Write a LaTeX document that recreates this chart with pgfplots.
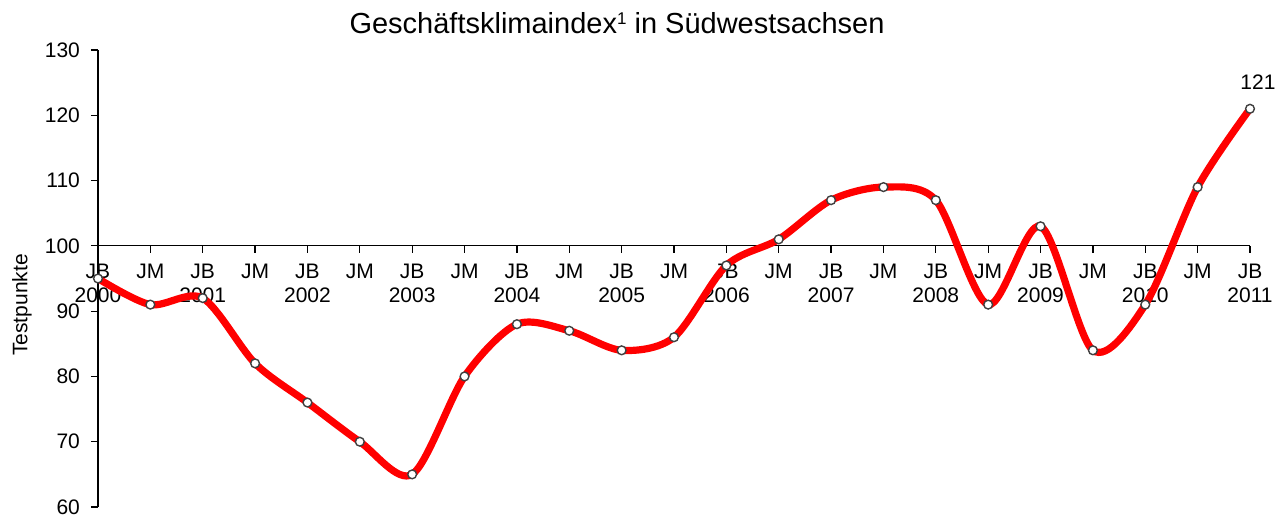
\documentclass[border=0pt]{standalone}
\usepackage{pgfplots}
\pgfplotsset{compat=1.18}
\usepackage{fontspec}
\setmainfont{Liberation Sans}
\begin{document}
\begin{tikzpicture}
\useasboundingbox (-49pt,-4.5pt) rectangle (594.5pt,253.5pt);
\begin{axis}[
    at={(0,0)}, anchor=south west,
    scale only axis, width=576pt, height=228.5pt,
    xmin=0, xmax=22, ymin=60, ymax=130,
    % shift so that the x axis line sits at 100
    y coord trafo/.code={\pgfmathparse{#1-100}},
    y coord inv trafo/.code={\pgfmathparse{#1+100}},
    axis y line=left, axis x line=middle,
    hide obscured x ticks=false, hide obscured y ticks=false,
    x axis line style={-}, y axis line style={-},
    axis line style={black, line width=0.6pt},
    tick style={black, line width=0.6pt},
    tick align=outside, major tick length=3.5pt,
    xtick={0,...,22},
    xticklabels={{JB\\2000},JM,{JB\\2001},JM,{JB\\2002},JM,{JB\\2003},JM,{JB\\2004},JM,{JB\\2005},JM,
                 {JB\\2006},JM,{JB\\2007},JM,{JB\\2008},JM,{JB\\2009},JM,{JB\\2010},JM,{JB\\2011}},
    ytick={60,70,80,90,100,110,120,130},
    yticklabels={60,70,80,90,100,110,120,130},
    xticklabel style={font=\fontsize{10.5}{12}\selectfont, align=center, yshift=-2pt},
    yticklabel style={font=\fontsize{10.5}{12}\selectfont, xshift=-2pt},
    every axis y label/.style={at={(axis description cs:-0.066,0.442)}, rotate=90, anchor=center,
        font=\fontsize{10.5}{12}\selectfont},
    ylabel={Testpunkte},
    every axis title/.style={at={(axis description cs:0.4505,1)}, anchor=base, yshift=8.5pt,
        font=\fontsize{14.5}{17}\selectfont},
    title={Geschäftsklimaindex\raisebox{4.5pt}{\fontsize{8.5}{8.5}\selectfont 1} in Südwestsachsen},
    clip=false,
]
\addplot[red, line width=3.6pt, smooth,
    mark=*, mark size=2.2pt,
    mark options={fill=white, draw=black!75, line width=0.7pt}]
coordinates {
    (0,95) (1,91) (2,92) (3,82) (4,76) (5,70) (6,65) (7,80) (8,88) (9,87)
    (10,84) (11,86) (12,97) (13,101) (14,107) (15,109) (16,107) (17,91)
    (18,103) (19,84) (20,91) (21,109) (22,121)
};
\node[anchor=base, xshift=4pt, yshift=9.5pt, font=\fontsize{10.5}{12}\selectfont] at (axis cs:22,121) {121};
\end{axis}
\end{tikzpicture}
\end{document}
